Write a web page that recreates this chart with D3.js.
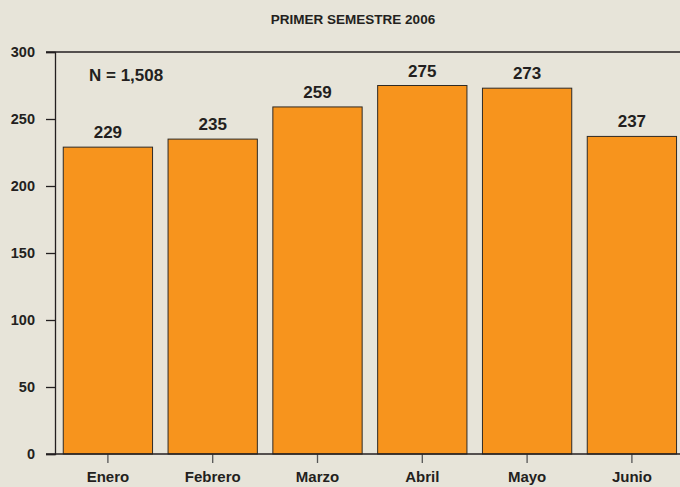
<!DOCTYPE html>
<html>
<head>
<meta charset="utf-8">
<script src="https://cdn.jsdelivr.net/npm/d3@7"></script>
<style>
  body { margin: 0; background: #e7e4d9; }
  svg { display: block; font-family: "Liberation Sans", Arial, sans-serif; }
</style>
</head>
<body>
<svg width="680" height="487"></svg>
<script>
// data
var months = ["Enero", "Febrero", "Marzo", "Abril", "Mayo", "Junio"];
var counts = [229, 235, 259, 275, 273, 237];
var yTicks = [0, 50, 100, 150, 200, 250, 300];
var title = "PRIMER SEMESTRE 2006";
var note = "N = 1,508";

var svg = d3.select("svg"),
    ink = "#231f20";

svg.append("rect")
    .attr("width", 680).attr("height", 487)
    .attr("fill", "#e7e4d9");

var x = d3.scaleBand()
    .domain(months)
    .range([55.5, 684.3])
    .paddingInner(0.148)
    .paddingOuter(0.074);

var y = d3.scaleLinear()
    .domain([0, 300])
    .range([454, 52]);

// title
svg.append("text")
    .attr("x", 353).attr("y", 24)
    .attr("text-anchor", "middle")
    .attr("font-size", 13.5).attr("font-weight", "bold")
    .attr("fill", ink)
    .text(title);

// bars
svg.selectAll(".bar")
    .data(counts)
  .enter().append("rect")
    .attr("class", "bar")
    .attr("x", function(d, i) { return x(months[i]); })
    .attr("y", function(d) { return y(d); })
    .attr("width", x.bandwidth())
    .attr("height", function(d) { return y(0) - y(d); })
    .attr("fill", "#f7941d")
    .attr("stroke", "#2e2a25")
    .attr("stroke-width", 1);

// value labels
svg.selectAll(".val")
    .data(counts)
  .enter().append("text")
    .attr("class", "val")
    .attr("x", function(d, i) { return x(months[i]) + x.bandwidth() / 2; })
    .attr("y", function(d) { return y(d) - 9; })
    .attr("text-anchor", "middle")
    .attr("font-size", 17).attr("font-weight", "bold")
    .attr("fill", ink)
    .text(function(d) { return d; });

// y axis
var yAxis = svg.append("g")
    .attr("transform", "translate(55,0)")
    .call(d3.axisLeft(y).tickValues(yTicks).tickSize(9).tickPadding(11));
yAxis.select(".domain").attr("stroke", ink).attr("stroke-width", 1.3);
yAxis.selectAll(".tick line").attr("stroke", ink).attr("stroke-width", 1.3);
yAxis.selectAll(".tick text")
    .attr("font-size", 14.5).attr("font-weight", "bold")
    .attr("fill", ink).attr("font-family", null);

// top frame line and baseline
svg.append("line")
    .attr("x1", 46).attr("x2", 680)
    .attr("y1", y(300)).attr("y2", y(300))
    .attr("stroke", ink).attr("stroke-width", 1.3);

var xAxis = svg.append("g")
    .attr("transform", "translate(0," + y(0) + ")")
    .call(d3.axisBottom(x).tickSize(9).tickPadding(8.5));
xAxis.select(".domain").remove();
xAxis.selectAll(".tick line").attr("stroke", "#555").attr("stroke-width", 1.3);
xAxis.selectAll(".tick text")
    .attr("font-size", 15).attr("font-weight", "bold")
    .attr("fill", ink).attr("font-family", null);

svg.append("line")
    .attr("x1", 46).attr("x2", 680)
    .attr("y1", y(0)).attr("y2", y(0))
    .attr("stroke", ink).attr("stroke-width", 1.3);

// sample size note
svg.append("text")
    .attr("x", 89).attr("y", 81)
    .attr("font-size", 17).attr("font-weight", "bold")
    .attr("fill", ink)
    .text(note);
</script>
</body>
</html>
